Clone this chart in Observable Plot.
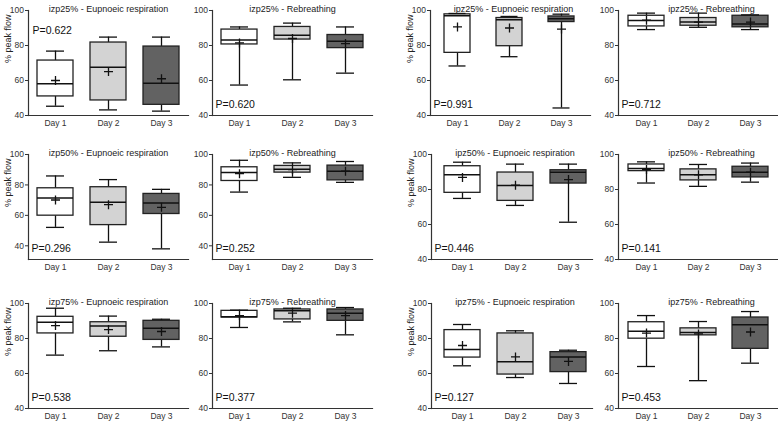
<!DOCTYPE html>
<html>
<head>
<meta charset="utf-8">
<script src="https://cdn.jsdelivr.net/npm/d3@7"></script>
<script src="https://cdn.jsdelivr.net/npm/@observablehq/plot@0.6"></script>
<style>
  html, body { margin: 0; padding: 0; background: #fff; }
  #chart { position: relative; width: 778px; height: 421px; overflow: hidden; background: #fff; }
  #chart svg { position: absolute; overflow: visible; }
</style>
</head>
<body>
<div id="chart"></div>
<script>
// ---- Data ----
const days = ["Day 1", "Day 2", "Day 3"];
const titles = [
  "izp25% - Eupnoeic respiration", "izp25% - Rebreathing", "ipz25% - Eupnoeic respiration", "ipz25% - Rebreathing",
  "izp50% - Eupnoeic respiration", "izp50% - Rebreathing", "ipz50% - Eupnoeic respiration", "ipz50% - Rebreathing",
  "izp75% - Eupnoeic respiration", "izp75% - Rebreathing", "ipz75% - Eupnoeic respiration", "ipz75% - Rebreathing"
];
const pLabels = [
  "P=0.622", "P=0.620", "P=0.991", "P=0.712",
  "P=0.296", "P=0.252", "P=0.446", "P=0.141",
  "P=0.538", "P=0.377", "P=0.127", "P=0.453"
];
const yTicks = [40, 60, 80, 100];
const yLabel = "% peak flow";
// per panel: [Day 1, Day 2, Day 3]
const whiskerMin = [
  [45.3, 43.2, 42.5], [57.4, 60.4, 64.2], [68.3, 73.6, 44.3], [89.1, 90.4, 89.1],
  [52.1, 42.4, 38.0], [75.3, 85.0, 81.7], [74.9, 70.9, 61.3], [83.7, 81.8, 84.2],
  [70.5, 73.0, 75.2], [86.3, 89.5, 82.1], [64.4, 57.7, 54.3], [64.0, 55.9, 65.9]
];
const quartile1 = [
  [50.9, 48.6, 46.1], [80.6, 83.4, 78.5], [75.8, 79.6, 93.4], [90.9, 91.3, 90.4],
  [59.8, 53.6, 60.9], [82.6, 88.1, 83.0], [78.1, 73.5, 83.4], [90.5, 85.2, 86.9],
  [82.9, 81.0, 79.2], [92.0, 90.9, 90.1], [69.1, 59.4, 60.8], [79.9, 81.8, 74.1]
];
const medians = [
  [58.1, 67.6, 58.5], [83.2, 85.8, 82.5], [97.0, 94.7, 95.3], [94.3, 93.4, 92.3],
  [71.4, 68.6, 68.1], [88.1, 90.3, 89.0], [88.4, 82.3, 89.9], [92.0, 88.4, 89.8],
  [89.3, 87.2, 85.9], [92.5, 95.8, 94.5], [73.7, 66.7, 69.5], [84.1, 83.5, 87.9]
];
const quartile3 = [
  [71.4, 81.7, 79.4], [89.1, 90.6, 86.0], [97.8, 95.7, 96.6], [97.0, 95.7, 97.0],
  [77.8, 78.5, 74.1], [91.6, 92.5, 92.7], [93.3, 89.7, 91.0], [94.3, 91.5, 93.0],
  [92.4, 89.3, 90.1], [95.8, 96.6, 96.6], [84.8, 82.9, 72.2], [89.3, 85.8, 92.0]
];
const whiskerMax = [
  [76.8, 84.8, 84.8], [90.6, 92.8, 90.6], [98.3, 96.6, 97.9], [98.5, 98.5, 97.5],
  [85.9, 83.5, 77.1], [96.2, 94.5, 95.4], [95.6, 94.5, 94.5], [95.8, 94.3, 95.1],
  [97.3, 92.8, 91.0], [96.2, 97.3, 97.7], [88.0, 84.4, 73.3], [93.1, 89.7, 95.4]
];
const means = [
  [60.0, 65.1, 61.0], [81.5, 84.0, 81.1], [90.6, 90.0, 89.4], [94.5, 93.4, 93.4],
  [70.1, 67.0, 65.3], [87.4, 90.1, 89.0], [86.9, 82.5, 85.7], [91.5, 88.4, 89.9],
  [87.4, 85.1, 84.0], [93.1, 94.5, 93.1], [76.0, 69.5, 66.9], [83.1, 82.6, 83.7]
];
const yMinimum = [40, 40, 40, 40, 31, 31, 40, 40, 40, 40, 40, 40];

// ---- Layout / style (not data) ----
const colGeom = [
  {a: 28, b: 188, c1: 55, step: 53, bw: 36},
  {a: 212, b: 372, c1: 238.5, step: 53.5, bw: 36},
  {a: 431, b: 592, c1: 462, step: 53, bw: 36},
  {a: 618, b: 778, c1: 645.5, step: 52.5, bw: 36}
];
const titleShift = [0, 0, 3, 13];
const rowTop = [10, 154, 303]; // page y of the 100 gridline
const plotH = 105, mTop = 10, mBottom = 18, mLeft = 28;
const fills = ["#ffffff", "#d3d3d3", "#626262"];
const font = "'Liberation Sans', Arial, Helvetica, sans-serif";
const plusSymbol = {
  draw(ctx, size) {
    const r = Math.sqrt(size / Math.PI);
    ctx.moveTo(-r, 0); ctx.lineTo(r, 0);
    ctx.moveTo(0, -r); ctx.lineTo(0, r);
  }
};

const container = document.getElementById("chart");

for (let i = 0; i < 12; i++) {
  const row = Math.floor(i / 4), col = i % 4;
  let g = Object.assign({}, colGeom[col]);
  if (i === 2) g = {a: 430, b: 590, c1: 456.5, step: 53, bw: 27};
  const L = g.c1 - g.bw / 2 - g.a;
  const R = (g.b - g.a) - L - (2 * g.step + g.bw);
  const pInner = 1 - g.bw / g.step;
  const pOuter = (L + R) / (2 * g.step);
  const align = L / (L + R);
  const cap = (g.bw - 18) / 2;

  const data = days.map((d, j) => ({
    day: d, lo: whiskerMin[i][j], q1: quartile1[i][j], med: medians[i][j],
    q3: quartile3[i][j], hi: whiskerMax[i][j], mean: means[i][j]
  }));

  const svgLeft = g.a - mLeft;
  const width = g.b - svgLeft;
  const height = mTop + plotH + mBottom;

  const marks = [
    Plot.ruleX(data, {x: "day", y1: "lo", y2: "q1", stroke: "#111", strokeWidth: 1.3}),
    Plot.ruleX(data, {x: "day", y1: "q3", y2: "hi", stroke: "#111", strokeWidth: 1.3}),
    Plot.barY(data, {x: "day", y1: "q1", y2: "q3", fill: "day", stroke: "#222", strokeWidth: 1.3}),
    Plot.tickY(data, {x: "day", y: "med", stroke: "#111", strokeWidth: 1.5}),
    Plot.tickY(data, {x: "day", y: "lo", insetLeft: cap, insetRight: cap, stroke: "#111", strokeWidth: 1.3}),
    Plot.tickY(data, {x: "day", y: "hi", insetLeft: cap, insetRight: cap, stroke: "#111", strokeWidth: 1.3}),
    Plot.dot(data, {x: "day", y: "mean", symbol: plusSymbol, r: 4.5, fill: "none", stroke: "#111", strokeWidth: 1.3}),
    Plot.frame({anchor: "left", stroke: "#333", strokeWidth: 1.2}),
    Plot.frame({anchor: "bottom", stroke: "#333", strokeWidth: 1.2}),
    Plot.axisY({ticks: yTicks, tickSize: 3, tickPadding: 1.5, label: null, stroke: "#333", fill: "#333", fontSize: 8.5}),
    Plot.axisX({tickSize: 0, tickPadding: 4, label: null, fill: "#333", fontSize: 8.5}),
    Plot.text([titles[i]], {frameAnchor: "top", dx: titleShift[col], dy: -5, fontSize: 9, fill: "#222"}),
    (i === 0)
      ? Plot.text([pLabels[i]], {frameAnchor: "top-left", dx: 4, dy: 16, textAnchor: "start", fontSize: 10.5, fill: "#111"})
      : Plot.text([pLabels[i]], {frameAnchor: "bottom-left", dx: 3, dy: -8, textAnchor: "start", fontSize: 10.5, fill: "#111"})
  ];
  if (col === 0 || col === 2) {
    marks.push(Plot.text([yLabel], {frameAnchor: "left", dx: -20, rotate: -90, fontSize: 9, fill: "#222"}));
  }

  const svg = Plot.plot({
    width, height,
    marginLeft: mLeft, marginRight: 0, marginTop: mTop, marginBottom: mBottom,
    style: {fontFamily: font, fontSize: "8.5px", background: "transparent", overflow: "visible"},
    x: {type: "band", domain: days, paddingInner: pInner, paddingOuter: pOuter, align, axis: null},
    y: {domain: [yMinimum[i], 100], axis: null},
    color: {type: "ordinal", domain: days, range: fills},
    marks
  });
  svg.style.left = svgLeft + "px";
  svg.style.top = (rowTop[row] - mTop) + "px";
  container.appendChild(svg);
}
</script>
</body>
</html>
